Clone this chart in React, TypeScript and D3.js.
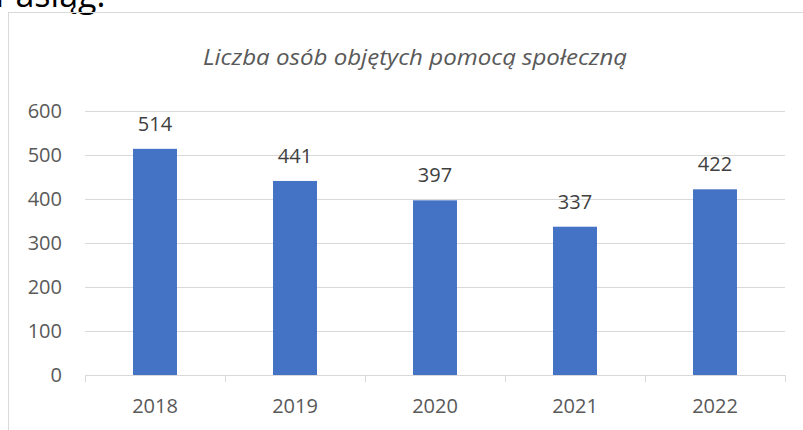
import React from "react";
import * as d3 from "d3";

const categories = ["2018", "2019", "2020", "2021", "2022"];
const values = [514, 441, 397, 337, 422];
const yTicks = [0, 100, 200, 300, 400, 500, 600];
const title = "Liczba osób objętych pomocą społeczną";
const headerText = "Pasiąg.";

const W = 803;
const H = 430;
const FONT = "'Open Sans', 'DejaVu Sans', sans-serif";

export default function App() {
  const x = d3.scaleBand<string>().domain(categories).range([85, 785]).padding(0);
  const y = d3.scaleLinear().domain([0, 600]).range([375, 111]);
  const bw = x.bandwidth() * 0.314;
  const grey = "#595959";
  const grid = "#d9d9d9";

  return (
    <div style={{ position: "fixed", left: 0, top: 0 }}>
      <svg width={W} height={H} style={{ display: "block", background: "#fff" }}>
        <text x={-5} y={7} fontFamily={FONT} fontSize={34} fill="#000">{headerText}</text>
        <rect x={8.5} y={12.5} width={900} height={500} fill="none" stroke={grid} strokeWidth={1} />
        <text x={415} y={65} textAnchor="middle" fontFamily={FONT} fontStyle="italic" fontSize={22}
          textLength={424} lengthAdjust="spacingAndGlyphs" fill={grey}>
          {title}
        </text>
        {yTicks.filter((t) => t > 0).map((t) => (
          <line key={t} x1={85} x2={785} y1={Math.round(y(t)) + 0.5} y2={Math.round(y(t)) + 0.5} stroke={grid} strokeWidth={1} />
        ))}
        {yTicks.map((t) => (
          <text key={"l" + t} x={62} y={y(t)} dy="0.36em" textAnchor="end" fontFamily={FONT} fontSize={20} fill={grey}>
            {t}
          </text>
        ))}
        {categories.map((c, i) => (
          <g key={c}>
            <rect
              x={(x(c) as number) + (x.bandwidth() - bw) / 2}
              y={y(values[i])}
              width={bw}
              height={y(0) - y(values[i])}
              fill="#4472C4"
            />
            <text
              x={(x(c) as number) + x.bandwidth() / 2}
              y={y(values[i]) - 18}
              textAnchor="middle"
              fontFamily={FONT}
              fontSize={20}
              fill="#404040"
            >
              {values[i]}
            </text>
            <text
              x={(x(c) as number) + x.bandwidth() / 2}
              y={413}
              textAnchor="middle"
              fontFamily={FONT}
              fontSize={20}
              fill={grey}
            >
              {c}
            </text>
          </g>
        ))}
        <line x1={85} x2={785} y1={375.5} y2={375.5} stroke={grid} strokeWidth={1} />
        {[...categories.map((c) => x(c) as number), 785].map((t, i) => (
          <line key={"t" + i} x1={Math.round(t) + 0.5} x2={Math.round(t) + 0.5} y1={375} y2={382} stroke={grid} strokeWidth={1} />
        ))}
      </svg>
    </div>
  );
}
